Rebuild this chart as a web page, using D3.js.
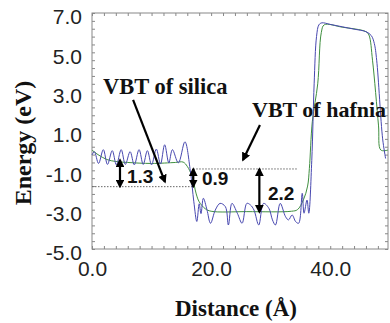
<!DOCTYPE html>
<html>
<head>
<meta charset="utf-8">
<script src="https://cdn.jsdelivr.net/npm/d3@7"></script>
<style>
  body { margin: 0; background: #fff; }
  svg { display: block; }
</style>
</head>
<body>
<div id="chart"></div>
<script>
// Energy profile across silica / hafnia interface

// blue curve: local band edge (Å, eV)
var blueX = [0, 0.4, 1.1, 1.9, 2.6, 3.4, 4.1, 4.9, 5.6, 6.4, 7.1, 7.9, 8.6, 9.3, 10.0, 10.8, 11.5, 12.2, 12.9, 13.5, 14.5, 15.6, 16.5, 17.1, 17.6, 18.0, 18.3, 18.7, 19.3, 19.9, 20.7, 21.5, 22.4, 22.9, 23.5, 24.4, 25.2, 26.0, 26.6, 27.2, 28.0, 28.8, 29.7, 30.3, 30.8, 31.6, 32.5, 33.0, 33.6, 34.2, 34.7, 35.3, 35.6, 36.1, 36.4, 36.9, 37.3, 37.7, 38.1, 38.6, 40.0, 42.0, 44.0, 46.0, 46.9, 47.4, 47.8, 48.8, 49.3];
var blueY = [-0.22, -0.05, -0.65, 0.05, -0.7, 0.0, -0.72, 0.05, -0.7, -0.05, -0.72, 0.05, -0.7, 0.0, -0.72, 0.08, -0.68, 0.3, -0.62, 0.05, -0.62, 0.45, -1.0, -2.6, -3.6, -2.7, -3.2, -2.42, -3.0, -3.69, -3.02, -2.68, -2.85, -3.78, -2.68, -3.18, -3.69, -2.68, -2.76, -3.02, -3.78, -2.68, -2.93, -3.52, -3.78, -2.68, -3.36, -3.52, -3.27, -3.61, -3.69, -2.17, -3.18, -2.51, -3.18, -0.5, 3.4, 5.8, 6.4, 6.5, 6.42, 6.3, 6.18, 6.05, 5.85, 5.45, 4.6, 0.6, -0.4];

// green curve: averaged profile
var greenX = [0, 1.0, 2.5, 4.0, 6.0, 10.0, 14.0, 15.3, 16.0, 16.8, 17.5, 18.0, 19.0, 20.0, 26.0, 33.5, 34.5, 35.5, 36.2, 36.5, 37.0, 37.9, 38.5, 39.0, 42.0, 46.0, 46.5, 47.1, 48.1, 48.5, 49.7];
var greenY = [0.03, -0.2, -0.45, -0.55, -0.6, -0.65, -0.6, -0.58, -0.8, -1.3, -2.2, -2.6, -2.95, -3.08, -3.1, -3.08, -3.0, -2.5, -1.8, -0.9, 1.5, 3.4, 6.0, 6.4, 6.28, 6.05, 5.88, 4.6, 1.3, 0.03, 0.03];

// valence band top levels
var vbtNames = ["silica", "hafnia"];
var vbtLevel = [-1.83, -0.93];
var vbtFrom = [0, 17.0];
var vbtTo = [17.0, 34.5];

// offset arrows
var gapLabels = ["1.3", "0.9", "2.2"];
var gapX = [4.7, 17.0, 28.1];
var gapTop = [-0.47, -0.93, -0.93];
var gapBottom = [-1.83, -1.83, -3.12];

var xTickLabels = [0, 20, 40];
var yTickLabels = [-5, -3, -1, 1, 3, 5, 7];

var width = 390,
    height = 323,
    plotL = 92,
    plotR = 388,
    plotT = 13,
    plotB = 249;

var x = d3.scaleLinear().domain([0, 49.7]).range([plotL, plotR]);
var y = d3.scaleLinear().domain([-5, 7]).range([plotB, plotT]);

var svg = d3.select("#chart")
    .append("svg")
    .attr("width", width)
    .attr("height", height);

// arrow head
svg.append("defs").append("marker")
    .attr("id", "head")
    .attr("viewBox", "0 0 10 10")
    .attr("refX", 8)
    .attr("refY", 5)
    .attr("markerWidth", 4)
    .attr("markerHeight", 4)
    .attr("orient", "auto-start-reverse")
    .append("path")
    .attr("d", "M0,0 L10,5 L0,10 Z")
    .attr("fill", "#000");

// minor ticks, all four sides, pointing in
function minor(g) {
    g.select(".domain").remove();
    g.selectAll("line").attr("stroke", "#888");
}
svg.append("g").attr("transform", "translate(" + plotL + ",0)")
    .call(d3.axisLeft(y).tickValues(d3.range(-5, 7.01, 0.4)).tickSize(-3).tickFormat(""))
    .call(minor);
svg.append("g").attr("transform", "translate(" + plotR + ",0)")
    .call(d3.axisRight(y).tickValues(d3.range(-5, 7.01, 0.4)).tickSize(-3).tickFormat(""))
    .call(minor);
svg.append("g").attr("transform", "translate(0," + plotB + ")")
    .call(d3.axisBottom(x).tickValues(d3.range(0, 49, 2)).tickSize(-3).tickFormat(""))
    .call(minor);
svg.append("g").attr("transform", "translate(0," + plotT + ")")
    .call(d3.axisTop(x).tickValues(d3.range(0, 49, 2)).tickSize(-3).tickFormat(""))
    .call(minor);

// tick labels
var yLab = svg.append("g").attr("transform", "translate(" + (plotL - 10) + ",4)")
    .call(d3.axisLeft(y).tickValues(yTickLabels).tickSize(0).tickPadding(0));
yLab.select(".domain").remove();
yLab.selectAll("text")
    .style("font", "21px 'Liberation Sans', Arial, sans-serif")
    .attr("fill", "#222")
    .text(function(d) { return d.toFixed(1); });

var xLab = svg.append("g").attr("transform", "translate(0," + (plotB + 12) + ")")
    .call(d3.axisBottom(x).tickValues(xTickLabels).tickSize(0).tickPadding(0));
xLab.select(".domain").remove();
xLab.selectAll("text")
    .style("font", "21px 'Liberation Sans', Arial, sans-serif")
    .attr("fill", "#222")
    .text(function(d) { return d.toFixed(1); });

// frame
svg.append("rect")
    .attr("x", plotL)
    .attr("y", plotT)
    .attr("width", plotR - plotL)
    .attr("height", plotB - plotT)
    .attr("fill", "none")
    .attr("stroke", "#888")
    .attr("stroke-width", 1);

// dotted VBT levels
vbtNames.forEach(function(n, i) {
    svg.append("line")
        .attr("x1", x(vbtFrom[i]))
        .attr("x2", x(vbtTo[i]))
        .attr("y1", y(vbtLevel[i]))
        .attr("y2", y(vbtLevel[i]))
        .attr("stroke", "#666")
        .attr("stroke-width", 1)
        .attr("stroke-dasharray", "1.5,1.5");
});

// curves
var line = d3.line()
    .x(function(d) { return x(d[0]); })
    .y(function(d) { return y(d[1]); })
    .curve(d3.curveCatmullRom.alpha(0.5));

svg.append("path")
    .datum(greenX.map(function(v, i) { return [v, greenY[i]]; }))
    .attr("d", line)
    .attr("fill", "none")
    .attr("stroke", "#3f8f3f")
    .attr("stroke-width", 1);

svg.append("path")
    .datum(blueX.map(function(v, i) { return [v, blueY[i]]; }))
    .attr("d", line)
    .attr("fill", "none")
    .attr("stroke", "#4848b0")
    .attr("stroke-width", 1);

// double arrows with gap values
gapLabels.forEach(function(t, i) {
    svg.append("line")
        .attr("x1", x(gapX[i]))
        .attr("x2", x(gapX[i]))
        .attr("y1", y(gapTop[i]))
        .attr("y2", y(gapBottom[i]))
        .attr("stroke", "#000")
        .attr("stroke-width", 2.2)
        .attr("marker-start", "url(#head)")
        .attr("marker-end", "url(#head)");
});

var gapTextX = [127, 202, 268],
    gapTextY = [183, 185, 200];
gapLabels.forEach(function(t, i) {
    svg.append("text")
        .attr("x", gapTextX[i])
        .attr("y", gapTextY[i])
        .text(t)
        .style("font", "bold 19px 'Liberation Sans', Arial, sans-serif")
        .attr("fill", "#111");
});

// pointer arrows to the VBT lines
var pointerFrom = [[6.9, 2.58], [28.2, 1.31]],
    pointerTo = [[12.25, -1.59], [25.35, -0.47]];
pointerFrom.forEach(function(p, i) {
    svg.append("line")
        .attr("x1", x(p[0]))
        .attr("y1", y(p[1]))
        .attr("x2", x(pointerTo[i][0]))
        .attr("y2", y(pointerTo[i][1]))
        .attr("stroke", "#000")
        .attr("stroke-width", 2.2)
        .attr("marker-end", "url(#head)");
});

svg.append("text")
    .attr("x", 103)
    .attr("y", 94)
    .text("VBT of silica")
    .style("font", "bold 22.5px 'Liberation Serif', 'Times New Roman', serif")
    .attr("fill", "#111");

svg.append("text")
    .attr("x", 252)
    .attr("y", 117)
    .text("VBT of hafnia")
    .style("font", "bold 22px 'Liberation Serif', 'Times New Roman', serif")
    .attr("fill", "#111");

// axis titles
svg.append("text")
    .attr("x", 236)
    .attr("y", 316)
    .attr("text-anchor", "middle")
    .text("Distance (Å)")
    .style("font", "bold 23px 'Liberation Serif', 'Times New Roman', serif")
    .attr("fill", "#111");

svg.append("text")
    .attr("transform", "translate(31,143) rotate(-90)")
    .attr("text-anchor", "middle")
    .text("Energy (eV)")
    .style("font", "bold 24px 'Liberation Serif', 'Times New Roman', serif")
    .attr("fill", "#111");
</script>
</body>
</html>
